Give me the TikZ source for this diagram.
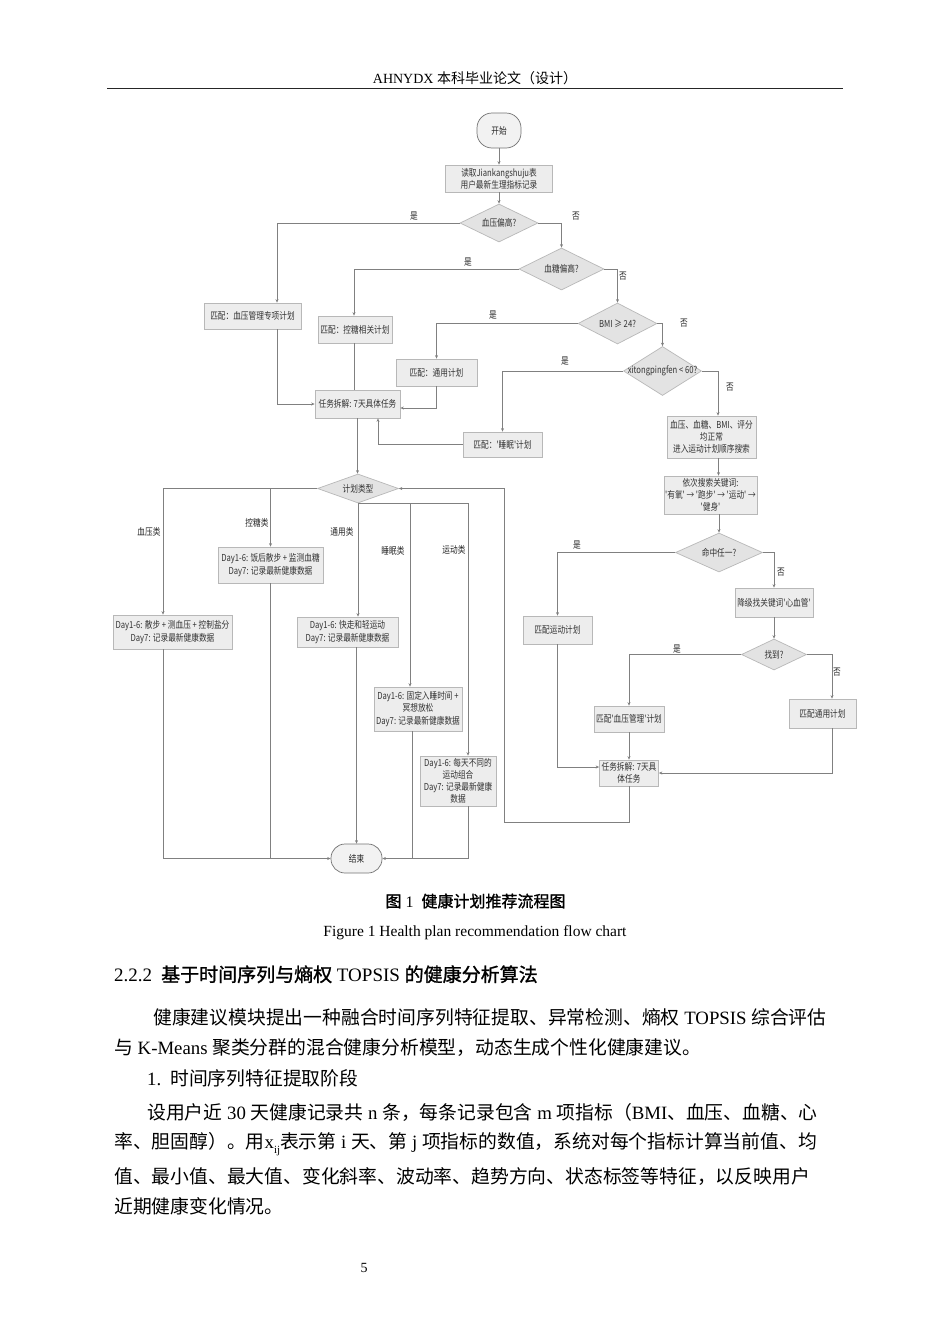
\documentclass[tikz,border=0pt]{standalone}
\usepackage{fontspec}
\setmainfont{Liberation Serif}
\newfontfamily\zhf{Noto Sans CJK SC}
\newfontfamily\zhb{Noto Sans CJK SC}[FakeBold=1.3]
\newfontfamily\zhc{Noto Sans CJK SC}[FakeStretch=0.8]
\usetikzlibrary{shapes.geometric,arrows.meta}
\newcommand\fsz[1]{\fontsize{#1}{#1}\selectfont}
\newcommand\fcf{\zhc\fontsize{9.6}{12.2}\selectfont}
\tikzset{
  fbox/.style={draw=black!28, fill=black!7, line width=0.7pt, inner sep=1pt, align=center, font=\fcf, text=black!80},
  fdia/.style={diamond, draw=black!28, fill=black!11, line width=0.7pt, inner sep=0pt, font=\fcf, text=black!80},
  term/.style={draw=black!55, fill=black!5, line width=0.7pt, inner sep=1pt, font=\fcf, text=black!85},
  conn/.style={draw=black!50, line width=0.6pt},
  arr/.style={conn, -{Stealth[length=3.5pt,width=3pt]}},
  yn/.style={font=\fcf, text=black!85, inner sep=0pt},
  body/.style={inner sep=0pt, anchor=base west, font=\fsz{18.8}, text=black},
}
\begin{document}
\begin{tikzpicture}[x=1pt,y=-1pt]
\fill[white] (0,0) rectangle (950,1344);
\useasboundingbox (0,0) rectangle (950,1344);

% header
\node[inner sep=0pt] (hdr) at (475,78) {\fsz{14}AHNYDX {\zhf 本科毕业论文（设计）}};
\draw[line width=1.4pt, black!85] (107,88.5) -- (843,88.5);

% ---------- flowchart nodes ----------
\node[term, rounded corners=15pt, minimum width=44pt, minimum height=35pt] (start) at (499,130.5) {开始};
\node[fbox, minimum width=107pt, minimum height=27pt] (read) at (499,178.5) {读取Jiankangshuju表\\用户最新生理指标记录};
\node[fdia, minimum width=78pt, minimum height=38pt] (dBP) at (499,223) {\makebox[0pt]{血压偏高?}};
\node[fdia, minimum width=85pt, minimum height=42pt] (dBG) at (561.5,269) {\makebox[0pt]{血糖偏高?}};
\node[fbox, minimum width=97pt, minimum height=26pt] (bBP) at (252.5,316) {匹配：血压管理专项计划};
\node[fbox, minimum width=74pt, minimum height=27pt] (bBG) at (355,329.5) {匹配：控糖相关计划};
\node[fdia, minimum width=79pt, minimum height=41pt] (dBMI) at (617.5,323.5) {\makebox[0pt]{BMI ≥ 24?}};
\node[fbox, minimum width=81pt, minimum height=27pt] (bGen) at (436.5,372.5) {匹配：通用计划};
\node[fdia, minimum width=78pt, minimum height=49pt] (dXT) at (662.5,371) {\makebox[0pt]{xitongpingfen < 60?}};
\node[fbox, minimum width=85pt, minimum height=28pt] (task1) at (357.5,404) {任务拆解: 7天具体任务};
\node[fbox, minimum width=79pt, minimum height=25pt] (bSleep) at (502.5,444.5) {匹配：'睡眠'计划};
\node[fbox, minimum width=89pt, minimum height=42pt] (bNorm) at (711.5,437) {血压、血糖、BMI、评分\\均正常\\进入运动计划顺序搜索};
\node[fbox, minimum width=93pt, minimum height=38pt] (bKey) at (710.5,495) {依次搜索关键词:\\'有氧' → '跑步' → '运动' →\\'健身'};
\node[fdia, minimum width=87pt, minimum height=39pt] (dHit) at (719,552.5) {\makebox[0pt]{命中任一?}};
\node[fbox, minimum width=78pt, minimum height=29pt] (bDown) at (774,602.5) {降级找关键词'心血管'};
\node[fbox, minimum width=69pt, minimum height=28pt] (bSport) at (557.5,630) {匹配运动计划};
\node[fdia, minimum width=65pt, minimum height=31pt] (dFound) at (774,654.5) {\makebox[0pt]{找到?}};
\node[fbox, minimum width=70pt, minimum height=26pt] (bBPM) at (629,719) {匹配'血压管理'计划};
\node[fbox, minimum width=67pt, minimum height=29pt] (bGen2) at (822.5,713.5) {匹配通用计划};
\node[fbox, minimum width=59pt, minimum height=26pt] (task2) at (629,773) {任务拆解: 7天具\\体任务};

\node[fdia, minimum width=81pt, minimum height=29pt] (dType) at (358,488.5) {\makebox[0pt]{计划类型}};
\node[fbox, minimum width=119pt, minimum height=34pt] (pBP) at (172.5,632) {Day1-6: 散步 + 测血压 + 控制盐分\\Day7: 记录最新健康数据};
\node[fbox, minimum width=105pt, minimum height=36pt] (pBG) at (270.5,565) {Day1-6: 饭后散步 + 监测血糖\\Day7: 记录最新健康数据};
\node[fbox, minimum width=101pt, minimum height=30pt] (pGen) at (347.5,632) {Day1-6: 快走和轻运动\\Day7: 记录最新健康数据};
\node[fbox, minimum width=88pt, minimum height=44pt] (pSleep) at (418,709) {Day1-6: 固定入睡时间 +\\冥想放松\\Day7: 记录最新健康数据};
\node[fbox, minimum width=76pt, minimum height=50pt] (pSport) at (458,781) {Day1-6: 每天不同的\\运动组合\\Day7: 记录最新健康\\数据};
\node[term, rounded corners=14pt, minimum width=51pt, minimum height=29pt] (end) at (356.5,858.5) {结束};

% labels
\node[yn] (l1) at (414,216) {是};
\node[yn] (l2) at (576,216) {否};
\node[yn] (l3) at (468,262) {是};
\node[yn] (l4) at (623,276) {否};
\node[yn] (l5) at (493,315) {是};
\node[yn] (l6) at (684,323) {否};
\node[yn] (l7) at (565,361) {是};
\node[yn] (l8) at (730,387) {否};
\node[yn] (l9) at (577,545) {是};
\node[yn] (l10) at (781,572) {否};
\node[yn] (l11) at (677,649) {是};
\node[yn] (l12) at (837,672) {否};
\node[yn] (c1) at (149,532) {血压类};
\node[yn] (c2) at (257,523) {控糖类};
\node[yn] (c3) at (342,532) {通用类};
\node[yn] (c4) at (393,551) {睡眠类};
\node[yn] (c5) at (454,550) {运动类};

% ---------- connectors ----------
\draw[arr] (start) -- (read);
\draw[arr] (read) -- (dBP);
\draw[arr] (dBP.west) -| ([xshift=24.5pt]bBP.north);
\draw[arr] (dBP.east) -| (dBG.north);
\draw[arr] (dBG.west) -| ([xshift=-1pt]bBG.north);
\draw[arr] (dBG.east) -| (dBMI.north);
\draw[arr] (dBMI.west) -| (bGen.north);
\draw[arr] (dBMI.east) -| (dXT.north);
\draw[arr] (dXT.west) -| (bSleep.north);
\draw[arr] (dXT.east) -| ([xshift=6.5pt]bNorm.north);
\draw[arr] ([xshift=24.5pt]bBP.south) |- (task1.west);
\draw[conn] ([xshift=-1pt]bBG.south) -- ([xshift=-1pt]bBG.south |- task1.north);
\draw[arr] (bGen.south) |- ([yshift=-4pt]task1.east);
\draw[arr] (bSleep.west) -| ([xshift=20.5pt]task1.south);
\draw[arr] (task1.south) -- (task1.south |- dType.north);

\draw[arr] (dType.west) -| ([xshift=-9.5pt]pBP.north);
\draw[arr] (dType.west -| pBG.north) -- (pBG.north);
\draw[arr] (dType.south) -- (dType.south |- pGen.north);
\draw[arr] (dType.south) -| ([xshift=-8pt]pSleep.north);
\draw[arr] (dType.south) -| ([xshift=10pt]pSport.north);

\draw[arr] ([xshift=-9.5pt]pBP.south) |- (end.west);
\draw[conn] (pBG.south) -- (pBG.south |- end.west);
\draw[arr] (end.north |- pGen.south) -- (end.north);
\draw[conn] ([xshift=-6pt]pSleep.south) -- ([xshift=-6pt]pSleep.south |- end.east);
\draw[arr] ([xshift=10pt]pSport.south) |- (end.east);

\draw[arr] ([xshift=7pt]bNorm.south) -- ([xshift=7pt]bNorm.south |- bKey.north);
\draw[arr] (dHit.north |- bKey.south) -- (dHit.north);
\draw[arr] (dHit.west) -| (bSport.north);
\draw[arr] (dHit.east) -| (bDown.north);
\draw[arr] (bDown.south) -- (dFound.north);
\draw[arr] (dFound.west) -| (bBPM.north);
\draw[arr] (dFound.east) -| ([xshift=9.5pt]bGen2.north);
\draw[arr] (bSport.south) |- ([yshift=6pt]task2.west);
\draw[arr] (bBPM.south) -- (task2.north);
\draw[arr] ([xshift=9.5pt]bGen2.south) |- (task2.east);
\coordinate (loopc) at (504,822);
\draw[arr] (task2.south) |- (loopc) |- (dType.east);

% ---------- captions and body ----------
\node[inner sep=0pt] (cap1) at (475.5,901) {\fsz{16}{\zhb 图} 1\hspace{8pt}{\zhb 健康计划推荐流程图}};
\node[inner sep=0pt] (cap2) at (475,933) {\fsz{15.5}Figure 1 Health plan recommendation flow chart};

\node[body, font=\fsz{19}] (h222) at (114,981.5) {2.2.2\hspace{9pt}{\zhb 基于时间序列与熵权} TOPSIS {\zhb 的健康分析算法}};
\node[body] (p1) at (153,1024.5) {{\zhf 健康建议模块提出一种融合时间序列特征提取、异常检测、熵权} TOPSIS {\zhf 综合评估}};
\node[body] (p2) at (114,1054.5) {{\zhf 与} K-Means {\zhf 聚类分群的混合健康分析模型，动态生成个性化健康建议。}};
\node[body] (p3) at (147,1085) {1.\hspace{9pt}{\zhf 时间序列特征提取阶段}};
\node[body] (p4) at (147,1119.5) {{\zhf 设用户近} 30 {\zhf 天健康记录共} n {\zhf 条，每条记录包含} m {\zhf 项指标（}BMI{\zhf 、血压、血糖、心}};
\node[body] (p5) at (114,1148.5) {{\zhf 率、胆固醇）。用}x\lower5pt\hbox{\fsz{11}ij}{\zhf 表示第} i {\zhf 天、第} j {\zhf 项指标的数值，系统对每个指标计算当前值、均}};
\node[body] (p6) at (114,1183.5) {{\zhf 值、最小值、最大值、变化斜率、波动率、趋势方向、状态标签等特征，以反映用户}};
\node[body] (p7) at (114,1213.5) {{\zhf 近期健康变化情况。}};
\node[inner sep=0pt] (pg) at (364,1268) {\fsz{14}5};
\end{tikzpicture}
\end{document}
